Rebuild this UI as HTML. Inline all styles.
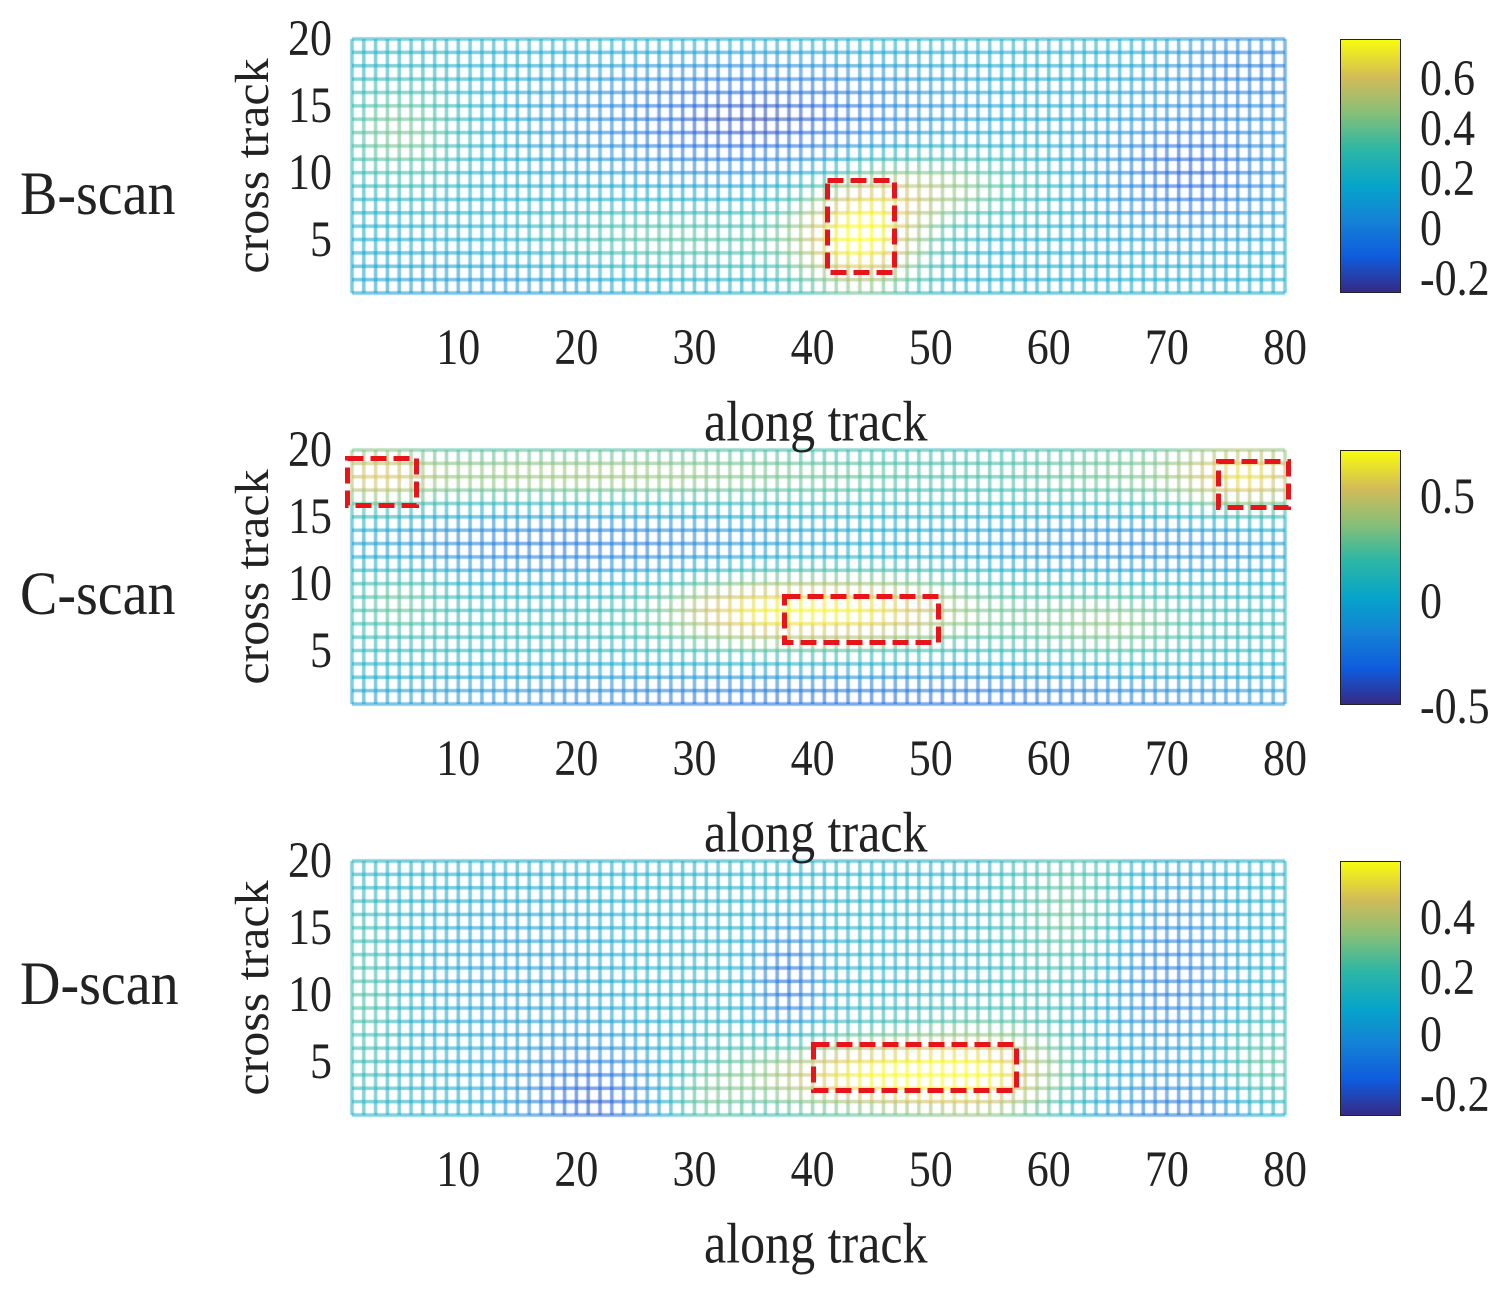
<!DOCTYPE html>
<html><head><meta charset="utf-8"><style>
body{margin:0;background:#fff;width:1509px;height:1298px;position:relative;overflow:hidden;font-family:"Liberation Serif",serif;color:#222}
.t{position:absolute;font-size:44px;line-height:1;white-space:nowrap;transform:scaleY(1.15);transform-origin:left center}
.lab{position:absolute;font-size:56px;line-height:1;transform:scaleY(1.1)}
.yl{position:absolute;font-size:50px;transform:rotate(-90deg) scaleY(0.95);transform-origin:center;white-space:nowrap;line-height:1}
.cb{position:absolute;left:1340px;width:59px;border:1.5px solid #222;background:linear-gradient(to top,#352a87,#0f5cdd 14%,#1481d6 28%,#06a4ca 42%,#2eb7a4 57%,#87bf77 71%,#d1bb59 85%,#f9fb0e)}
canvas,svg{position:absolute;left:0;top:0}
</style></head><body>
<canvas id="c" width="1509" height="1298"></canvas>

<div class="lab" style="left:20px;top:166px">B-scan</div>
<div class="lab" style="left:20px;top:566px">C-scan</div>
<div class="lab" style="left:20px;top:956px">D-scan</div>

<div class="cb" style="top:39px;height:252px"></div>
<div class="cb" style="top:450px;height:253px"></div>
<div class="cb" style="top:861px;height:253px"></div>

<div class="t" style="left:1420px;top:57px">0.6</div>
<div class="t" style="left:1420px;top:107px">0.4</div>
<div class="t" style="left:1420px;top:157px">0.2</div>
<div class="t" style="left:1420px;top:207px">0</div>
<div class="t" style="left:1420px;top:257px">-0.2</div>
<div class="t" style="left:1420px;top:475px">0.5</div>
<div class="t" style="left:1420px;top:580px">0</div>
<div class="t" style="left:1420px;top:685px">-0.5</div>
<div class="t" style="left:1420px;top:896px">0.4</div>
<div class="t" style="left:1420px;top:956px">0.2</div>
<div class="t" style="left:1420px;top:1013px">0</div>
<div class="t" style="left:1420px;top:1073px">-0.2</div>

<div id="ticks"></div>

<svg width="1509" height="1298"><g fill="none" stroke="#e8141a" stroke-width="5" stroke-dasharray="16 7">
<rect x="827.5" y="180.5" width="67" height="92"/>
<rect x="347.5" y="458.5" width="69" height="47"/>
<rect x="1218.5" y="461.5" width="70" height="46"/>
<rect x="784.5" y="596.5" width="154" height="46"/>
<rect x="813.5" y="1044.5" width="203" height="46"/>
</g></svg>

<script>
var stops=[[0,[53,42,135]],[.14,[15,92,221]],[.28,[20,129,214]],[.42,[6,164,202]],[.57,[46,183,164]],[.71,[135,191,119]],[.85,[209,187,89]],[1,[249,251,14]]];
function cm(t){t=Math.max(0,Math.min(1,t));for(var i=1;i<stops.length;i++){if(t<=stops[i][0]){var a=stops[i-1],b=stops[i],f=(t-a[0])/(b[0]-a[0]);return 'rgb('+[0,1,2].map(function(k){return Math.round(a[1][k]+(b[1][k]-a[1][k])*f)}).join(',')+')';}}return 'rgb(249,251,14)';}
var panels=[
{top:39,base:0.42,bl:[[44,5,4,3,.55],[50,9,6,2,.3],[28,5,8,2,.2],[5,13,4,3,.25],[35,14,10,3,-.35],[72,10,5,3,-.3],[78,18,6,3,-.2],[15,1,10,2,-.1],[40,20,30,1,.05]]},
{top:450,base:0.5,bl:[[20,18,20,1.5,.25],[3,18,3,2,.2],[77,18,4,2,.35],[68,18,8,2,.15],[43,8,8,2,.45],[33,8,5,2,.2],[65,7,5,2,.2],[20,13,15,2,-.3],[68,13,12,2,-.25],[45,1,30,2,-.35],[5,9,3,2,.15]]},
{top:861,base:0.45,bl:[[45,4,8,2,.5],[55,4,5,3,.3],[30,2,3,2,.2],[62,16,4,4,.2],[78,4,3,3,.2],[2,10,2,5,.15],[22,2,5,3,-.35],[38,11,2,3,-.3],[70,12,4,5,-.25],[72,1,6,2,-.25],[15,12,6,5,-.1]]}];
var ctx=document.getElementById('c').getContext('2d');
var x0=352,dx=(1285-352)/79,dy=254/19;
function field(p,x,y){var v=p.base;p.bl.forEach(function(b){v+=b[4]*Math.exp(-((x-b[0])*(x-b[0]))/(2*b[2]*b[2])-((y-b[1])*(y-b[1]))/(2*b[3]*b[3]));});return v;}
ctx.lineWidth=3.5;ctx.globalAlpha=0.55;ctx.lineCap='butt';
panels.forEach(function(p){
 var yb=p.top+254;
 function X(x){return x0+(x-1)*dx}function Y(y){return yb-(y-1)*dy}
 for(var x=1;x<=80;x++)for(var y=1;y<20;y++){ctx.strokeStyle=cm(field(p,x,y+.5));ctx.beginPath();ctx.moveTo(X(x),Y(y));ctx.lineTo(X(x),Y(y+1));ctx.stroke();}
 for(var y=1;y<=20;y++)for(var x=1;x<80;x++){ctx.strokeStyle=cm(field(p,x+.5,y));ctx.beginPath();ctx.moveTo(X(x),Y(y));ctx.lineTo(X(x+1),Y(y));ctx.stroke();}
});
var h='';
panels.forEach(function(p){
 var yb=p.top+254;
 [5,10,15,20].forEach(function(v){h+='<div class="t" style="left:288px;top:'+(yb-(v-1)*dy-22)+'px">'+(v<10?'&nbsp;&nbsp;'+v:v)+'</div>';});
 for(var v=10;v<=80;v+=10)h+='<div class="t" style="left:'+(x0+(v-1)*dx-22)+'px;top:'+(p.top+287)+'px">'+v+'</div>';
 h+='<div class="t" style="left:704px;top:'+(p.top+357)+'px;font-size:50px">along track</div>';
 h+='<div class="yl" style="left:127px;top:'+(p.top+102)+'px;width:250px;text-align:center">cross track</div>';
});
document.getElementById('ticks').innerHTML=h;
</script>
</body></html>
